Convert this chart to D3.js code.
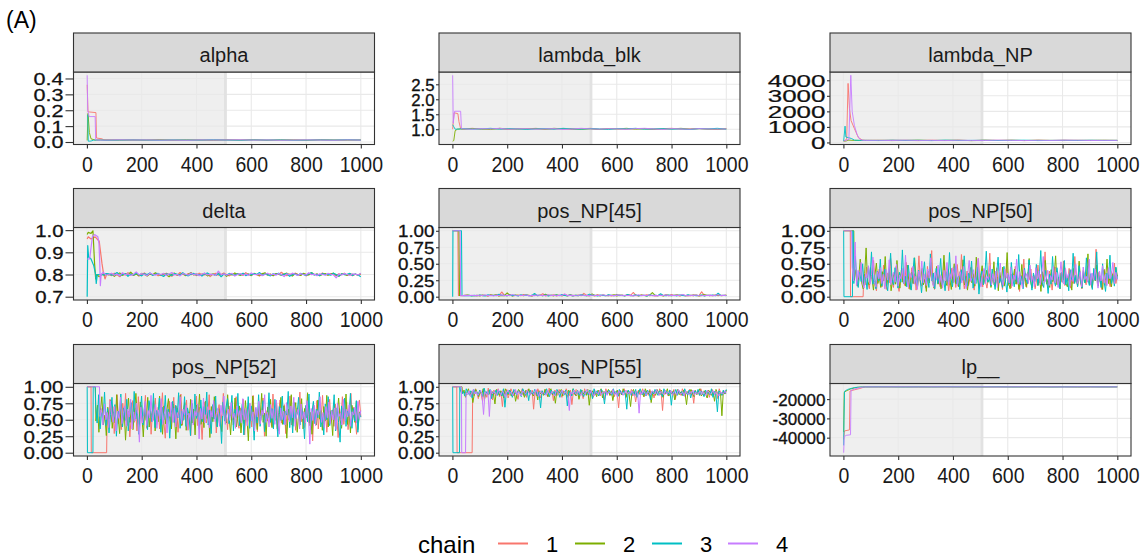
<!DOCTYPE html>
<html><head><meta charset="utf-8">
<script src="https://cdn.jsdelivr.net/npm/d3@7"></script>
<style>body{margin:0;background:#fff}svg{display:block}</style>
</head><body><svg id="c" width="1148" height="560"></svg>
<script>
// ---------- DATA ----------
const panelNames = ["alpha","lambda_blk","lambda_NP","delta","pos_NP[45]","pos_NP[50]","pos_NP[52]","pos_NP[55]","lp__"];
const chainNames = ["1","2","3","4"];
const chainColors = ["#F8766D","#7CAE00","#00BFC4","#C77CFF"];
const xTicks = [0,200,400,600,800,1000];
const lastIter = 1000;
const warmupEnd = 500;

const alphaTicks = [0,0.1,0.2,0.3,0.4];
const blkTicks = [1.0,1.5,2.0,2.5];
const npTicks = [0,1000,2000,3000,4000];
const deltaTicks = [0.7,0.8,0.9,1.0];
const posTicks = [0,0.25,0.5,0.75,1];
const lpTicks = [-40000,-30000,-20000];

// early iterations: [iteration, value]; later: values from start iteration to 1000
const alphaEarly = [
 [[1,.36],[4,.19],[33,.185],[35,.025],[55,.02],[62,.013]],
 [[1,.01],[4,.18],[9,.06],[15,.02],[30,.012],[50,.013]],
 [[1,.17],[3,.17],[5,.005],[15,.006],[25,.012],[50,.012]],
 [[1,.42],[3,.20],[8,.16],[30,.16],[32,.013],[50,.012]]];
const alphaStart = [70,70,70,70];
const alphaLater = [
 [.013,.012,.014,.012,.013,.011,.012,.013,.012,.014,.012,.013,.011,.012,.013,.012,.014,.012,.013,.012],
 [.012,.013,.011,.012,.014,.012,.013,.012,.011,.013,.012,.014,.012,.013,.012,.011,.013,.012,.012,.013],
 [.011,.012,.013,.012,.011,.013,.012,.012,.014,.012,.011,.013,.012,.013,.011,.012,.013,.012,.014,.012],
 [.012,.014,.012,.013,.012,.012,.011,.013,.012,.013,.014,.012,.013,.011,.012,.013,.012,.011,.013,.012]];

const blkEarly = [
 [[1,1.0],[6,1.55],[20,1.52],[24,1.25],[30,1.02]],
 [[1,.6],[5,.62],[10,.95],[18,1.0],[30,1.01]],
 [[1,1.15],[4,1.1],[10,1.0],[30,1.01]],
 [[1,2.8],[3,1.2],[8,1.6],[30,1.6],[33,1.02]]];
const blkStart = [40,40,40,40];
const blkLater = [
 [1.01,1.03,1.00,1.02,1.01,0.99,1.02,1.01,1.03,1.00,1.01,1.02,0.99,1.01,1.03,1.00,1.02,1.01,1.00,1.02,1.01,0.99,1.02,1.03,1.00,1.01,1.02,1.00,1.01,1.02],
 [1.00,1.02,1.01,0.99,1.03,1.01,1.00,1.02,1.01,1.00,1.03,1.01,1.02,1.00,1.01,0.99,1.02,1.01,1.03,1.00,1.02,1.01,1.00,1.01,1.03,1.00,1.02,1.01,0.99,1.01],
 [1.02,1.00,1.01,1.03,1.00,1.02,1.01,0.99,1.01,1.02,1.00,1.03,1.01,1.00,1.02,1.01,0.99,1.02,1.01,1.03,1.00,1.01,1.02,1.00,1.01,0.99,1.02,1.01,1.03,1.00],
 [1.01,1.00,1.02,1.01,1.03,1.00,1.01,1.02,1.00,1.01,1.02,0.99,1.01,1.03,1.01,1.00,1.02,1.01,1.00,1.02,1.03,1.01,0.99,1.02,1.01,1.00,1.02,1.01,1.00,1.01]];

const npEarly = [
 [[1,100],[12,200],[17,3800],[22,2200],[28,1400],[40,900],[55,300],[70,150]],
 [[1,80],[10,95],[20,150],[40,130],[60,135]],
 [[1,90],[6,1050],[9,350],[20,300],[30,250],[40,150],[60,130]],
 [[1,85],[20,200],[27,4320],[32,2000],[40,1100],[50,500],[60,200],[70,140]]];
const npStart = [80,80,80,80];
const npLater = [
 [140,125,150,132,118,145,128,136,122,148,130,141,119,135,127,152,124,138,129,133],
 [128,142,120,135,149,126,131,144,117,137,129,140,123,146,132,121,139,127,143,130],
 [135,122,146,129,138,119,150,127,133,141,124,136,147,120,131,139,126,144,128,134],
 [131,139,124,147,128,135,121,143,130,126,149,133,122,140,129,137,145,123,134,130]];

const deltaEarly = [
 [[1,.96],[5,.97],[15,.96],[30,.97],[45,.95],[50,.90],[55,.85],[60,.81],[66,.78],[72,.80]],
 [[1,.98],[5,.99],[15,.985],[22,.997],[28,.85],[32,.78],[36,.80],[45,.79],[55,.801],[65,.797],[72,.803]],
 [[1,.70],[3,.93],[6,.88],[15,.87],[25,.84],[32,.80],[34,.76],[38,.80],[50,.80],[60,.798],[70,.804]],
 [[1,.87],[10,.87],[20,.97],[28,.98],[40,.97],[44,.94],[47,.85],[49,.75],[52,.80],[60,.81],[70,.797]]];
const deltaStart = [80,80,80,80];
const deltaLater = [
 [.801,.795,.806,.799,.790,.804,.798,.808,.802,.796,.803,.793,.800,.807,.797,.802,.799,.805,.794,.801,.798,.806,.800,.792,.803,.797,.809,.801,.796,.804,.799,.802,.795,.806,.800,.798,.803,.791,.801,.805,.797,.800,.807,.799,.794,.802,.798,.804,.801,.796,.808,.800,.797,.803,.799,.793,.805,.801,.798,.802,.796,.804,.800,.810,.799,.795,.802,.798,.806,.801,.797,.803,.794,.800,.805,.799,.802,.796,.807,.800,.798,.804,.801,.795,.803,.799,.806,.797,.801,.794,.802,.798,.800],
 [.798,.804,.792,.801,.807,.796,.803,.799,.811,.797,.802,.795,.805,.800,.793,.803,.798,.808,.801,.796,.804,.799,.790,.802,.806,.797,.801,.804,.795,.800,.809,.798,.803,.796,.801,.805,.794,.800,.802,.797,.806,.799,.803,.792,.801,.798,.807,.800,.796,.804,.799,.802,.795,.805,.800,.797,.803,.808,.798,.801,.794,.804,.800,.797,.802,.806,.799,.793,.803,.800,.796,.805,.801,.798,.809,.799,.802,.795,.800,.804,.797,.801,.806,.798,.792,.803,.800,.796,.804,.799,.801,.797,.805],
 [.803,.797,.801,.809,.795,.800,.804,.792,.802,.798,.806,.799,.794,.803,.800,.807,.796,.801,.805,.798,.791,.803,.800,.796,.804,.801,.797,.808,.799,.794,.802,.805,.798,.800,.793,.803,.807,.799,.801,.796,.804,.790,.802,.798,.805,.800,.797,.803,.799,.806,.795,.801,.798,.804,.800,.809,.796,.802,.799,.794,.803,.800,.806,.797,.801,.804,.792,.799,.802,.797,.805,.800,.796,.803,.808,.798,.801,.795,.804,.799,.802,.797,.806,.800,.793,.803,.799,.801,.805,.796,.802,.798,.790],
 [.800,.806,.797,.802,.795,.808,.799,.803,.796,.801,.812,.798,.804,.800,.795,.806,.801,.797,.803,.799,.805,.796,.802,.809,.798,.800,.794,.804,.801,.797,.807,.799,.803,.795,.801,.806,.798,.802,.800,.796,.815,.799,.803,.797,.801,.805,.793,.800,.804,.798,.802,.796,.807,.801,.799,.803,.795,.800,.806,.798,.802,.797,.804,.800,.791,.803,.799,.806,.801,.796,.804,.800,.798,.808,.799,.802,.795,.803,.800,.797,.805,.801,.799,.785,.802,.798,.804,.800,.796,.803,.801,.798,.806]];

const p45Early = [
 [[1,1],[20,1],[22,.02],[35,.015],[50,.02],[65,.018]],
 [[1,1],[24,1],[26,.02],[40,.018],[55,.024],[70,.015]],
 [[1,0],[2,1],[33,1],[35,.02],[45,.015],[60,.02],[70,.012]],
 [[1,1],[28,1],[30,.015],[45,.02],[60,.017],[72,.021]]];
const p45Start = [80,80,80,80];
const p45Later = [
 [.018,.012,.026,.015,.021,.009,.031,.017,.024,.013,.072,.020,.016,.028,.011,.019,.025,.014,.034,.018,.022,.010,.027,.016,.020,.045,.013,.023,.017,.029,.012,.021,.015,.038,.019,.024,.011,.018,.026,.014,.050,.020,.016,.023,.013,.031,.018,.022,.015,.027,.012,.019,.035,.017,.024,.014,.021,.016,.064,.020,.013,.025,.018,.030,.015,.022,.011,.019,.028,.016,.024,.014,.033,.018,.021,.012,.026,.017,.020,.015,.029,.019,.013,.075,.017,.023,.016,.020,.027,.014,.022,.018,.024],
 [.015,.022,.011,.027,.018,.014,.024,.019,.033,.012,.020,.016,.058,.021,.013,.026,.017,.023,.015,.030,.019,.011,.025,.018,.022,.014,.036,.017,.021,.013,.028,.019,.016,.024,.012,.031,.018,.020,.015,.026,.022,.014,.019,.042,.017,.023,.013,.027,.018,.016,.021,.029,.012,.024,.019,.015,.033,.020,.017,.022,.014,.026,.018,.013,.025,.061,.019,.016,.023,.012,.028,.020,.015,.021,.031,.017,.024,.014,.019,.022,.016,.027,.013,.020,.035,.018,.023,.015,.021,.026,.017,.019,.022],
 [.020,.014,.025,.017,.012,.029,.019,.023,.015,.037,.018,.021,.013,.026,.016,.022,.011,.030,.019,.024,.014,.020,.048,.017,.023,.015,.027,.012,.021,.018,.026,.014,.032,.019,.016,.024,.013,.022,.017,.028,.020,.015,.039,.018,.023,.012,.025,.019,.016,.030,.021,.014,.026,.018,.022,.013,.034,.017,.020,.025,.015,.019,.023,.012,.028,.018,.021,.016,.044,.019,.014,.024,.017,.022,.013,.027,.020,.016,.031,.018,.023,.015,.019,.026,.012,.021,.017,.025,.014,.052,.019,.022,.016],
 [.017,.023,.014,.020,.026,.016,.019,.012,.024,.018,.028,.015,.021,.017,.032,.019,.014,.023,.018,.025,.013,.020,.016,.027,.019,.022,.015,.030,.017,.021,.014,.024,.018,.040,.016,.020,.023,.015,.019,.026,.017,.022,.013,.025,.018,.021,.016,.029,.019,.014,.023,.017,.020,.027,.015,.022,.018,.024,.013,.019,.031,.016,.021,.018,.025,.014,.020,.017,.023,.019,.028,.015,.021,.016,.024,.018,.033,.020,.014,.022,.017,.026,.019,.015,.021,.018,.024,.016,.020,.029,.017,.022,.019]];

const p50Early = [
 [[1,1],[25,1],[26,0],[72,0]],
 [[1,1],[38,1]],
 [[1,1],[2,0],[33,0],[34,1],[36,1]],
 [[1,1],[30,1]]];
const p50Start = [74,40,38,32];
const p50Later = [
 [.32,.18,.45,.22,.12,.38,.27,.55,.19,.09,.31,.42,.24,.15,.48,.29,.11,.36,.21,.58,
  .26,.14,.33,.47,.19,.08,.28,.40,.23,.17,.52,.30,.12,.25,.44,.20,.35,.10,.27,.62,
  .22,.16,.39,.28,.13,.46,.24,.33,.70,.19,.11,.29,.41,.25,.15,.37,.22,.53,.18,.30,
  .09,.26,.43,.21,.34,.14,.49,.27,.20,.64,.31,.12,.24,.39,.17,.28,.45,.22,.10,.35,
  .26,.58,.19,.32,.15,.41,.23,.13,.29,.66,.21,.36,.18,.27,.44,.16,.31,.23,.11,.38,
  .25,.50,.17,.29,.13,.35,.22,.46,.19,.28,.08,.33,.24,.57,.20,.14,.37,.26,.42,.18,
  .30,.12,.25,.48,.21,.34,.16,.27,.68,.23,.15,.39,.28,.10,.32,.45,.19,.26,.14,.36,
  .22,.54,.17,.31,.24,.43,.13,.29,.20,.61,.27,.16,.35,.22,.12,.40,.25,.18,.47,.30,
  .21,.14,.33,.26,.72,.19,.37,.23,.11,.28,.42,.17,.31,.24,.15,.38,.26,.51,.20,.33],
 [.25,.41,.16,.30,.57,.21,.12,.35,.74,.23,.18,.44,.27,.10,.33,.51,.20,.29,.14,.38,
  .24,.61,.17,.31,.45,.09,.26,.36,.19,.55,.28,.13,.40,.22,.32,.16,.48,.25,.11,.37,
  .20,.59,.29,.15,.34,.23,.43,.18,.27,.08,.39,.21,.52,.30,.14,.25,.46,.19,.35,.12,
  .28,.63,.22,.17,.41,.26,.11,.33,.50,.20,.29,.15,.38,.24,.56,.18,.31,.10,.27,.44,
  .21,.35,.16,.60,.25,.13,.32,.47,.19,.28,.40,.22,.35,.14,.26,.53,.18,.30,.09,.37,
  .23,.45,.16,.29,.67,.21,.12,.34,.27,.42,.19,.31,.11,.24,.49,.20,.36,.15,.28,.58,
  .22,.13,.33,.26,.44,.17,.30,.08,.38,.24,.55,.19,.27,.14,.41,.23,.32,.62,.18,.29,
  .12,.36,.25,.47,.20,.15,.34,.28,.10,.43,.22,.31,.17,.54,.26,.13,.39,.21,.30,.65,
  .19,.27,.14,.37,.24,.48,.16,.32,.22,.11,.40,.26,.57,.20,.29,.15,.35,.23,.44,.31],
 [.20,.62,.28,.14,.37,.23,.50,.17,.30,.11,.45,.26,.68,.19,.33,.12,.39,.24,.57,.16,
  .29,.42,.21,.09,.35,.66,.25,.18,.44,.28,.13,.37,.22,.71,.20,.31,.15,.48,.26,.10,
  .34,.59,.23,.17,.40,.27,.06,.32,.53,.21,.29,.14,.65,.24,.36,.12,.43,.20,.30,.58,
  .18,.26,.09,.38,.23,.67,.27,.15,.34,.47,.19,.31,.11,.41,.25,.62,.21,.16,.36,.28,
  .54,.13,.30,.20,.45,.04,.27,.39,.18,.33,.69,.22,.30,.16,.42,.25,.11,.35,.60,.21,
  .28,.14,.46,.24,.07,.33,.19,.52,.27,.15,.38,.22,.64,.18,.31,.12,.43,.26,.20,.56,
  .29,.10,.36,.23,.49,.17,.32,.70,.21,.14,.40,.27,.05,.34,.19,.61,.25,.16,.44,.28,
  .12,.37,.22,.55,.18,.30,.09,.41,.26,.66,.20,.33,.15,.47,.24,.13,.38,.21,.59,.27,
  .17,.35,.11,.43,.25,.68,.19,.31,.14,.50,.23,.08,.36,.28,.63,.20,.32,.16,.45,.27],
 [.45,.24,.83,.17,.40,.26,.52,.21,.13,.35,.28,.47,.19,.32,.60,.23,.15,.38,.27,.44,
  .20,.34,.12,.41,.25,.56,.18,.30,.37,.22,.49,.16,.33,.27,.43,.20,.63,.24,.14,.36,
  .29,.46,.19,.31,.11,.39,.25,.54,.21,.34,.17,.42,.28,.59,.23,.15,.37,.26,.48,.20,
  .32,.13,.40,.24,.52,.18,.35,.27,.44,.22,.62,.16,.30,.38,.21,.46,.25,.12,.34,.55,
  .23,.29,.41,.19,.36,.58,.24,.15,.33,.43,.20,.31,.26,.47,.18,.35,.22,.39,.14,.30,
  .51,.25,.17,.42,.28,.36,.21,.45,.16,.33,.26,.57,.19,.38,.24,.13,.41,.29,.35,.20,
  .48,.23,.31,.15,.44,.27,.39,.18,.34,.61,.22,.28,.40,.17,.32,.25,.46,.21,.37,.14,
  .30,.53,.24,.19,.43,.28,.35,.16,.41,.23,.33,.49,.20,.27,.38,.15,.45,.26,.31,.22,
  .57,.18,.36,.25,.42,.29,.13,.39,.24,.47,.21,.34,.17,.44,.27,.32,.52,.20,.37,.25]];

const p52Early = [
 [[1,1],[15,1],[16,0],[72,0]],
 [[1,1],[31,1]],
 [[1,1],[2,0],[22,0],[23,1],[30,1]],
 [[1,1],[46,1]]];
const p52Start = [74,33,32,48];
const p52Later = [
 [.62,.38,.81,.47,.70,.29,.58,.88,.44,.66,.35,.75,.52,.90,.41,.63,.24,.57,.79,.46,
  .68,.33,.85,.51,.72,.40,.60,.87,.37,.55,.76,.28,.64,.49,.83,.43,.69,.36,.59,.91,
  .48,.22,.65,.53,.78,.39,.61,.84,.45,.71,.31,.56,.89,.42,.67,.50,.80,.34,.62,.26,
  .74,.47,.58,.86,.41,.69,.54,.20,.63,.77,.45,.57,.88,.38,.66,.52,.82,.30,.60,.73,
  .44,.59,.90,.48,.64,.35,.71,.56,.79,.42,.61,.85,.50,.37,.68,.53,.81,.27,.62,.46,
  .75,.58,.39,.87,.51,.66,.32,.70,.44,.59,.83,.25,.64,.48,.77,.55,.40,.89,.52,.69,
  .36,.61,.80,.45,.57,.73,.29,.65,.50,.86,.42,.60,.76,.34,.68,.55,.92,.47,.63,.38,
  .71,.53,.84,.41,.58,.18,.66,.49,.79,.36,.62,.54,.87,.44,.70,.31,.59,.81,.48,.65,
  .40,.74,.56,.23,.67,.51,.85,.43,.61,.77,.35,.58,.90,.46,.69,.52,.28,.64,.80,.55],
 [.48,.72,.31,.64,.85,.42,.57,.26,.69,.51,.80,.37,.62,.45,.88,.55,.29,.73,.40,.66,
  .19,.59,.83,.46,.70,.35,.61,.90,.52,.43,.77,.58,.24,.67,.49,.84,.39,.63,.54,.79,
  .33,.60,.47,.86,.56,.28,.71,.44,.65,.82,.50,.36,.74,.59,.21,.68,.53,.87,.41,.62,
  .76,.34,.57,.49,.81,.45,.66,.27,.72,.55,.89,.43,.61,.38,.78,.52,.64,.23,.70,.47,
  .85,.58,.40,.67,.53,.32,.75,.60,.45,.88,.55,.27,.66,.50,.83,.39,.62,.71,.30,.57,
  .44,.79,.54,.18,.68,.48,.86,.41,.63,.35,.74,.56,.90,.46,.60,.25,.69,.52,.81,.38,
  .65,.49,.77,.33,.58,.84,.43,.71,.55,.22,.66,.50,.88,.40,.62,.76,.31,.59,.47,.82,
  .36,.67,.53,.91,.45,.61,.28,.73,.57,.42,.80,.51,.64,.34,.70,.48,.87,.39,.63,.56,
  .26,.75,.44,.60,.83,.50,.37,.68,.54,.89,.43,.65,.30,.72,.58,.46,.78,.35,.62,.55],
 [.70,.45,.88,.36,.61,.52,.92,.41,.67,.30,.58,.84,.47,.73,.25,.63,.55,.89,.39,.68,
  .49,.81,.33,.60,.76,.44,.93,.51,.65,.28,.57,.86,.42,.71,.54,.35,.79,.62,.47,.90,
  .38,.64,.56,.83,.31,.69,.50,.87,.43,.66,.22,.59,.78,.46,.72,.53,.91,.37,.63,.49,
  .85,.40,.68,.57,.26,.75,.44,.89,.52,.61,.35,.80,.47,.70,.58,.92,.42,.65,.29,.73,
  .51,.86,.39,.62,.55,.14,.77,.48,.69,.82,.44,.60,.87,.33,.66,.53,.90,.41,.58,.74,
  .27,.64,.50,.85,.37,.71,.56,.19,.68,.45,.88,.40,.62,.79,.32,.59,.52,.91,.46,.67,
  .36,.81,.54,.24,.70,.49,.86,.43,.63,.57,.93,.38,.65,.30,.76,.51,.60,.84,.42,.69,
  .55,.21,.72,.47,.89,.35,.61,.78,.44,.66,.53,.92,.39,.58,.27,.74,.50,.85,.41,.64,
  .57,.88,.33,.68,.46,.16,.71,.52,.83,.40,.63,.56,.90,.37,.67,.48,.79,.31,.60,.54],
 [.55,.67,.42,.74,.50,.61,.38,.79,.57,.46,.70,.33,.63,.52,.84,.44,.59,.71,.40,.66,
  .54,.81,.36,.62,.48,.75,.58,.16,.69,.45,.56,.78,.41,.64,.53,.87,.47,.60,.73,.37,
  .65,.51,.82,.43,.58,.70,.30,.62,.55,.77,.46,.68,.39,.61,.53,.85,.44,.66,.57,.72,
  .35,.60,.49,.80,.42,.63,.56,.74,.21,.67,.51,.83,.45,.59,.70,.38,.64,.54,.79,.47,
  .61,.68,.40,.72,.56,.86,.43,.58,.66,.49,.76,.52,.60,.37,.71,.55,.64,.45,.82,.50,
  .67,.41,.59,.75,.48,.62,.33,.69,.54,.78,.44,.65,.57,.88,.46,.61,.39,.73,.52,.66,
  .43,.80,.55,.28,.68,.50,.63,.42,.76,.58,.47,.71,.53,.84,.40,.60,.66,.36,.74,.51,
  .62,.45,.79,.56,.13,.67,.49,.72,.41,.64,.57,.85,.46,.61,.38,.70,.53,.77,.44,.63,
  .50,.68,.35,.75,.55,.60,.42,.81,.48,.66,.54,.73,.40,.62,.57,.69,.45,.78,.51,.64]];

const p55Early = [
 [[1,1],[16,1],[17,0],[72,0]],
 [[1,1],[35,1]],
 [[1,1],[2,0],[26,0],[27,1]],
 [[1,1],[33,1],[34,0],[48,0]]];
const p55Start = [74,37,29,50];
const p55Later = [
 [.93,.86,.97,.90,.82,.95,.88,.78,.96,.91,.84,.98,.89,.93,.80,.95,.87,.92,.97,.85,
  .91,.70,.94,.88,.96,.83,.90,.97,.92,.86,.95,.89,.81,.94,.91,.97,.87,.93,.84,.96,
  .90,.88,.95,.66,.92,.86,.97,.90,.83,.94,.89,.96,.92,.85,.98,.88,.93,.79,.95,.90,
  .87,.96,.91,.84,.94,.89,.97,.92,.86,.95,.73,.91,.88,.96,.93,.85,.94,.90,.82,.97,
  .89,.92,.87,.95,.91,.84,.96,.88,.93,.90,.86,.95,.92,.80,.97,.89,.94,.87,.91,.96,
  .85,.93,.90,.68,.95,.88,.92,.97,.84,.91,.94,.89,.96,.86,.93,.77,.90,.95,.88,.92,
  .97,.85,.94,.91,.87,.96,.89,.93,.83,.95,.90,.88,.97,.92,.64,.94,.89,.91,.86,.95,
  .93,.88,.96,.81,.92,.90,.94,.87,.97,.91,.85,.93,.89,.96,.88,.92,.75,.95,.90,.94,
  .87,.97,.91,.86,.93,.89,.95,.84,.92,.96,.88,.90,.94,.82,.97,.91,.87,.93,.89,.95],
 [.90,.95,.84,.92,.97,.87,.93,.76,.89,.96,.91,.85,.94,.88,.97,.82,.92,.90,.95,.86,
  .93,.89,.74,.96,.91,.87,.94,.90,.83,.97,.92,.88,.95,.86,.91,.94,.78,.89,.96,.93,
  .87,.92,.84,.95,.90,.97,.88,.93,.86,.91,.95,.80,.94,.89,.92,.87,.96,.90,.85,.93,
  .97,.88,.91,.75,.94,.89,.92,.96,.86,.93,.90,.84,.95,.91,.88,.97,.92,.86,.94,.81,
  .90,.95,.89,.93,.87,.96,.72,.91,.94,.88,.92,.85,.95,.90,.97,.83,.93,.89,.91,.96,
  .87,.94,.79,.92,.90,.95,.86,.93,.88,.97,.91,.84,.94,.89,.70,.92,.96,.87,.93,.90,
  .95,.88,.91,.85,.97,.92,.89,.94,.76,.90,.93,.87,.96,.91,.88,.95,.84,.92,.90,.97,
  .86,.93,.89,.94,.80,.91,.96,.88,.92,.87,.95,.90,.73,.93,.89,.96,.91,.85,.94,.88,
  .92,.97,.86,.90,.94,.89,.83,.95,.91,.87,.93,.78,.96,.90,.88,.92,.56,.94,.89,.95],
 [.95,.89,.93,.86,.97,.91,.88,.94,.83,.96,.90,.92,.87,.95,.91,.85,.98,.89,.93,.88,
  .96,.82,.92,.90,.95,.87,.94,.91,.86,.97,.69,.93,.89,.95,.92,.84,.96,.90,.88,.94,
  .91,.85,.97,.92,.87,.93,.79,.95,.90,.89,.96,.93,.86,.92,.68,.94,.90,.88,.97,.91,
  .85,.95,.89,.93,.87,.96,.92,.84,.94,.90,.88,.95,.71,.93,.91,.86,.97,.89,.92,.94,
  .87,.96,.90,.85,.93,.91,.88,.95,.92,.82,.97,.89,.94,.86,.91,.96,.90,.74,.93,.88,
  .95,.91,.87,.97,.89,.93,.85,.96,.92,.88,.94,.90,.66,.95,.91,.87,.93,.89,.96,.84,
  .92,.97,.90,.88,.94,.86,.95,.91,.80,.93,.89,.96,.92,.87,.94,.90,.85,.97,.91,.93,
  .88,.95,.72,.92,.90,.96,.87,.94,.89,.93,.86,.97,.91,.88,.95,.83,.92,.90,.94,.89,
  .96,.87,.93,.91,.85,.95,.90,.92,.88,.97,.84,.93,.89,.62,.94,.91,.87,.95,.90,.96],
 [.91,.88,.94,.85,.92,.96,.89,.93,.87,.90,.95,.86,.58,.92,.88,.94,.55,.95,.89,.93,
  .90,.87,.96,.91,.88,.94,.90,.84,.93,.95,.89,.92,.87,.91,.96,.88,.93,.90,.86,.94,
  .91,.89,.95,.92,.87,.93,.90,.88,.96,.91,.85,.94,.89,.92,.90,.87,.95,.91,.88,.93,
  .90,.86,.94,.92,.89,.91,.95,.88,.93,.90,.87,.64,.92,.89,.95,.91,.88,.94,.90,.87,
  .93,.91,.89,.96,.92,.88,.94,.90,.86,.93,.91,.89,.95,.88,.92,.90,.94,.87,.93,.91,
  .89,.96,.88,.92,.85,.94,.90,.93,.87,.91,.95,.89,.92,.88,.94,.90,.86,.93,.91,.60,
  .92,.89,.95,.90,.87,.93,.91,.88,.94,.92,.89,.96,.90,.87,.93,.91,.88,.95,.89,.92,
  .90,.94,.87,.93,.91,.88,.96,.90,.89,.92,.86,.94,.91,.88,.93,.90,.95,.87,.92,.89,
  .91,.94,.88,.93,.90,.87,.95,.92,.89,.91,.94,.88,.93,.90,.86,.92,.91,.89,.94,.90]];

const lpEarly = [
 [[1,-41000],[4,-36500],[22,-36000],[24,-15800],[40,-15200],[60,-14500],[75,-13800]],
 [[1,-37000],[3,-16500],[10,-15800],[25,-14800],[50,-13900],[70,-13700]],
 [[1,-44000],[2,-31000],[4,-16000],[15,-15000],[40,-14000],[70,-13700]],
 [[1,-47800],[3,-39500],[10,-38800],[26,-38500],[28,-15500],[40,-14800],[60,-14000],[75,-13700]]];
const lpStart = [80,80,80,80];
const lpLater = [
 [-13680,-13640,-13700,-13660,-13630,-13690,-13650,-13670,-13620,-13680,-13660,-13640,-13700,-13650,-13670,-13630,-13690,-13660,-13640,-13670],
 [-13650,-13690,-13630,-13670,-13700,-13640,-13660,-13680,-13620,-13670,-13650,-13690,-13640,-13660,-13700,-13630,-13680,-13650,-13670,-13640],
 [-13670,-13630,-13660,-13690,-13640,-13680,-13620,-13660,-13700,-13650,-13640,-13680,-13660,-13630,-13690,-13670,-13650,-13640,-13680,-13660],
 [-13660,-13680,-13640,-13650,-13690,-13630,-13670,-13650,-13680,-13640,-13700,-13660,-13630,-13670,-13650,-13690,-13640,-13660,-13670,-13650]];

// ---------- LAYOUT / STYLE ----------
const FONT = "'Liberation Sans', Arial, Helvetica, sans-serif";
const colLeft = [73.5, 439, 830], rowTop = [33, 188.5, 344.5];
const panelW = 301, stripH = 39, panelH = 72.5;
const yTickLen = [8, 3, 3], yLabGap = [2, 1.5, 1.5];
const labelDigitH = 12;

const fmt1 = d3.format(".1f"), fmt2 = d3.format(".2f"), fmtInt = v => String(Math.round(v));
const panels = [
 {early:alphaEarly, start:alphaStart, later:alphaLater, ticks:alphaTicks, fmt:fmt1, fs:21.6, sw:0.9},
 {early:blkEarly,   start:blkStart,   later:blkLater,   ticks:blkTicks,   fmt:fmt1, fs:16.8, sw:0.9},
 {early:npEarly,    start:npStart,    later:npLater,    ticks:npTicks,    fmt:fmtInt, fs:26, sw:0.9},
 {early:deltaEarly, start:deltaStart, later:deltaLater, ticks:deltaTicks, fmt:fmt1, fs:20.4, sw:1.2},
 {early:p45Early,   start:p45Start,   later:p45Later,   ticks:posTicks,   fmt:fmt2, fs:18.8, sw:1.1},
 {early:p50Early,   start:p50Start,   later:p50Later,   ticks:posTicks,   fmt:fmt2, fs:23, sw:1.0},
 {early:p52Early,   start:p52Start,   later:p52Later,   ticks:posTicks,   fmt:fmt2, fs:20.6, sw:1.0},
 {early:p55Early,   start:p55Start,   later:p55Later,   ticks:posTicks,   fmt:fmt2, fs:18.8, sw:1.0},
 {early:lpEarly,    start:lpStart,    later:lpLater,    ticks:lpTicks,    fmt:fmtInt, fs:17, sw:0.9}
];

const svg = d3.select("#c").style("font-family", FONT);
svg.append("rect").attr("width",1148).attr("height",560).attr("fill","#fff");

svg.append("text").attr("x",6).attr("y",28).attr("font-size",23).attr("fill","#000").text("(A)");

panels.forEach((p, i) => {
  const c = i % 3, r = Math.floor(i / 3);
  const x0 = colLeft[c], sTop = rowTop[r], y0 = sTop + stripH;
  const series = p.early.map((e, k) => {
    const vals = p.later[k], s = p.start[k];
    return e.concat(vals.map((v, j) => [s + j * (lastIter - s) / (vals.length - 1), v]));
  });
  const allV = series.flat().map(d => d[1]);
  const [lo, hi] = d3.extent(allV), pad = (hi - lo) * 0.05;
  const y = d3.scaleLinear().domain([lo - pad, hi + pad]).range([y0 + panelH, y0]);
  const xPad = (lastIter - 1) * 0.05;
  const x = d3.scaleLinear().domain([1 - xPad, lastIter + xPad]).range([x0, x0 + panelW]);

  const g = svg.append("g");
  g.append("rect").attr("x",x0).attr("y",y0).attr("width",panelW).attr("height",panelH).attr("fill","#fff");
  g.append("rect").attr("x",x0).attr("y",y0).attr("width",x(warmupEnd)-x0).attr("height",panelH).attr("fill","#EFEFEF");
  g.selectAll(".vg").data(xTicks).join("line")
    .attr("x1",d=>x(d)).attr("x2",d=>x(d)).attr("y1",y0).attr("y2",y0+panelH)
    .attr("stroke","#E9E9E9").attr("stroke-width",1.1);
  g.selectAll(".hg").data(p.ticks).join("line")
    .attr("x1",x0).attr("x2",x0+panelW).attr("y1",d=>y(d)).attr("y2",d=>y(d))
    .attr("stroke","#E9E9E9").attr("stroke-width",1.1);
  g.append("rect").attr("x",x(warmupEnd)).attr("y",y0).attr("width",3).attr("height",panelH).attr("fill","#E2E2E2");

  const line = d3.line().x(d => x(d[0])).y(d => y(d[1]));
  series.forEach((s, k) => {
    g.append("path").attr("d", line(s)).attr("fill","none")
      .attr("stroke", chainColors[k]).attr("stroke-width",p.sw).attr("stroke-linejoin","round");
  });

  g.append("rect").attr("x",x0).attr("y",y0).attr("width",panelW).attr("height",panelH)
    .attr("fill","none").attr("stroke","#333").attr("stroke-width",1.1);
  g.append("rect").attr("x",x0).attr("y",sTop).attr("width",panelW).attr("height",stripH)
    .attr("fill","#D9D9D9").attr("stroke","#333").attr("stroke-width",1.1);
  g.append("text").attr("x",x0+panelW/2).attr("y",sTop+29).attr("text-anchor","middle")
    .attr("font-size",20).attr("fill","#1a1a1a").text(panelNames[i]);

  const xa = svg.append("g").attr("transform",`translate(0,${y0+panelH})`)
    .call(d3.axisBottom(x).tickValues(xTicks).tickSize(4).tickPadding(5).tickFormat(d3.format("d")));
  xa.select(".domain").remove();
  xa.selectAll("line").attr("stroke","#333").attr("stroke-width",1.1);
  xa.selectAll("text").attr("font-family",FONT).attr("font-size",19.5).attr("fill","#1a1a1a")
    .attr("dy",null).attr("y",null).attr("transform","translate(0,27) scale(1,1.1)");

  const ya = svg.append("g").attr("transform",`translate(${x0},0)`)
    .call(d3.axisLeft(y).tickValues(p.ticks).tickSize(yTickLen[c]).tickPadding(yLabGap[c]).tickFormat(p.fmt));
  ya.select(".domain").remove();
  ya.selectAll("line").attr("stroke","#333").attr("stroke-width",1.1);
  const sy = labelDigitH / (0.716 * p.fs);
  ya.selectAll("text").attr("font-family",FONT).attr("font-size",p.fs).attr("fill","#111")
    .attr("stroke","#111").attr("stroke-width",0.35)
    .attr("dy","0.358em").attr("transform",`scale(1,${sy})`);
});

const leg = svg.append("g");
leg.append("text").attr("x",418).attr("y",553).attr("font-size",24).attr("fill","#000").text("chain");
const keyX = [498, 575, 652, 728];
chainNames.forEach((nm, k) => {
  leg.append("line").attr("x1",keyX[k]).attr("x2",keyX[k]+30).attr("y1",543.5).attr("y2",543.5)
    .attr("stroke",chainColors[k]).attr("stroke-width",2);
  leg.append("text").attr("x",keyX[k]+48).attr("y",552).attr("font-size",22).attr("fill","#000").text(nm);
});
</script></body></html>
